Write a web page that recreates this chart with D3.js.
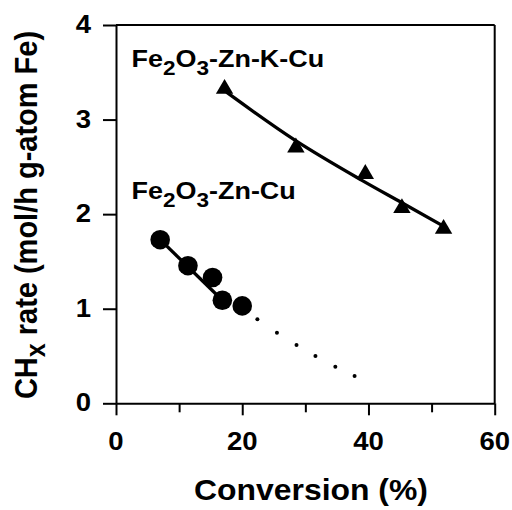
<!DOCTYPE html>
<html>
<head>
<meta charset="utf-8">
<script src="https://cdn.jsdelivr.net/npm/d3@7"></script>
<style>
  html, body { margin: 0; padding: 0; background: #fff; }
  svg { display: block; }
  text { font-family: "Liberation Sans", Arial, sans-serif; font-weight: bold; fill: #000; }
</style>
</head>
<body>
<svg id="chart" width="512" height="510"></svg>
<script>
// ---- data ----
const xTickLabels = [0, 20, 40, 60];
const xMinorTicks = [10, 30, 50];
const yTickLabels = [0, 1, 2, 3, 4];

// Fe2O3-Zn-K-Cu (triangles)
const kcuConv = [17.2, 28.5, 39.5, 45.3, 51.9];
const kcuRate = [3.35, 2.73, 2.45, 2.09, 1.87];
// fitted curve through Fe2O3-Zn-K-Cu
const kcuFitConv = [17.5, 28.4, 38.9, 45.3, 52.5];
const kcuFitRate = [3.29, 2.78, 2.36, 2.12, 1.85];

// Fe2O3-Zn-Cu (circles)
const cuConv = [7.0, 11.4, 15.3, 16.85, 20.0];
const cuRate = [1.73, 1.455, 1.33, 1.09, 1.03];
// fitted line through Fe2O3-Zn-Cu
const cuFitConv = [7.0, 16.85];
const cuFitRate = [1.73, 1.09];
// dotted extrapolation
const cuExtConv = [22.4, 25.5, 28.6, 31.6, 34.75, 37.8];
const cuExtRate = [0.888, 0.746, 0.616, 0.500, 0.387, 0.289];

const labelKCu = ["Fe", "2", "O", "3", "-Zn-K-Cu"];
const labelCu = ["Fe", "2", "O", "3", "-Zn-Cu"];
const xTitle = "Conversion (%)";
const yTitleParts = ["CH", "x", " rate (mol/h g-atom Fe)"];

// ---- layout ----
const SX = 1.1; // horizontal stretch of the glyphs in the reference
const svg = d3.select("#chart");
const x = d3.scaleLinear().domain([0, 60]).range([116, 494.7]);
const y = d3.scaleLinear().domain([0, 4]).range([403.3, 25]);

const zip = (a, b) => a.map((v, i) => [v, b[i]]);

// axes
const yAxis = d3.axisLeft(y).tickValues(yTickLabels).tickSize(13).tickSizeOuter(0).tickFormat("");
const gy = svg.append("g").attr("transform", `translate(${x(0)},0)`).call(yAxis);

const xAxisMajor = d3.axisBottom(x).tickValues(xTickLabels).tickSize(12).tickSizeOuter(0).tickFormat("");
const gx = svg.append("g").attr("transform", `translate(0,${y(0)})`).call(xAxisMajor);
const xAxisMinor = d3.axisBottom(x).tickValues(xMinorTicks).tickSize(9).tickSizeOuter(0).tickFormat("");
const gx2 = svg.append("g").attr("transform", `translate(0,${y(0)})`).call(xAxisMinor);
gx2.select(".domain").remove();

[gy, gx, gx2].forEach(g => {
  g.selectAll("path, line").attr("stroke", "#000").attr("stroke-width", 2);
});

// frame (top & right)
svg.append("line").attr("x1", x(0)).attr("x2", x(60)).attr("y1", y(4)).attr("y2", y(4))
  .attr("stroke", "#000").attr("stroke-width", 2);
svg.append("line").attr("x1", x(60)).attr("x2", x(60)).attr("y1", y(4)).attr("y2", y(0))
  .attr("stroke", "#000").attr("stroke-width", 2);

// stretched text helper
function sText(px, py, anchor, size, rotate) {
  return svg.append("text")
    .attr("transform", `translate(${px},${py}) scale(${SX},1)` + (rotate ? ` rotate(${rotate})` : ""))
    .attr("text-anchor", anchor)
    .attr("font-size", size);
}

// tick labels
yTickLabels.forEach(v => sText(91, y(v) + 8, "end", 25).text(v));
xTickLabels.forEach(v => sText(x(v), 449.5, "middle", 25).text(v));

// axis titles
sText(311, 500, "middle", 29).text(xTitle);
const yt = sText(36.5, 215, "middle", 29, -90);
yt.append("tspan").text(yTitleParts[0]);
yt.append("tspan").attr("font-size", 25).attr("dy", 8).text(yTitleParts[1]);
yt.append("tspan").attr("dy", -8).text(yTitleParts[2]);

// series labels
function formulaLabel(px, py, parts) {
  const t = sText(px, py, "start", 24.5);
  t.append("tspan").text(parts[0]);
  t.append("tspan").attr("font-size", 20.5).attr("dy", 8).text(parts[1]);
  t.append("tspan").attr("dy", -8).text(parts[2]);
  t.append("tspan").attr("font-size", 20.5).attr("dy", 8).text(parts[3]);
  t.append("tspan").attr("dy", -8).text(parts[4]);
}
formulaLabel(131.5, 66.7, labelKCu);
formulaLabel(131.5, 198.5, labelCu);

// lines
svg.append("path").datum(zip(kcuFitConv, kcuFitRate))
  .attr("d", d3.line().x(d => x(d[0])).y(d => y(d[1])).curve(d3.curveMonotoneX))
  .attr("fill", "none").attr("stroke", "#000").attr("stroke-width", 3.3);
svg.append("path").datum(zip(cuFitConv, cuFitRate))
  .attr("d", d3.line().x(d => x(d[0])).y(d => y(d[1])))
  .attr("fill", "none").attr("stroke", "#000").attr("stroke-width", 3.3);

// dotted extrapolation
svg.append("g").selectAll("circle").data(zip(cuExtConv, cuExtRate)).join("circle")
  .attr("cx", d => x(d[0])).attr("cy", d => y(d[1])).attr("r", 2).attr("fill", "#000");

// markers
svg.append("g").selectAll("circle").data(zip(cuConv, cuRate)).join("circle")
  .attr("cx", d => x(d[0])).attr("cy", d => y(d[1])).attr("r", 9.8).attr("fill", "#000");

const tri = "M0,-7.5 L8.7,7.3 L-8.7,7.3 Z";
svg.append("g").selectAll("path").data(zip(kcuConv, kcuRate)).join("path")
  .attr("transform", d => `translate(${x(d[0])},${y(d[1])})`)
  .attr("d", tri).attr("fill", "#000");
</script>
</body>
</html>
